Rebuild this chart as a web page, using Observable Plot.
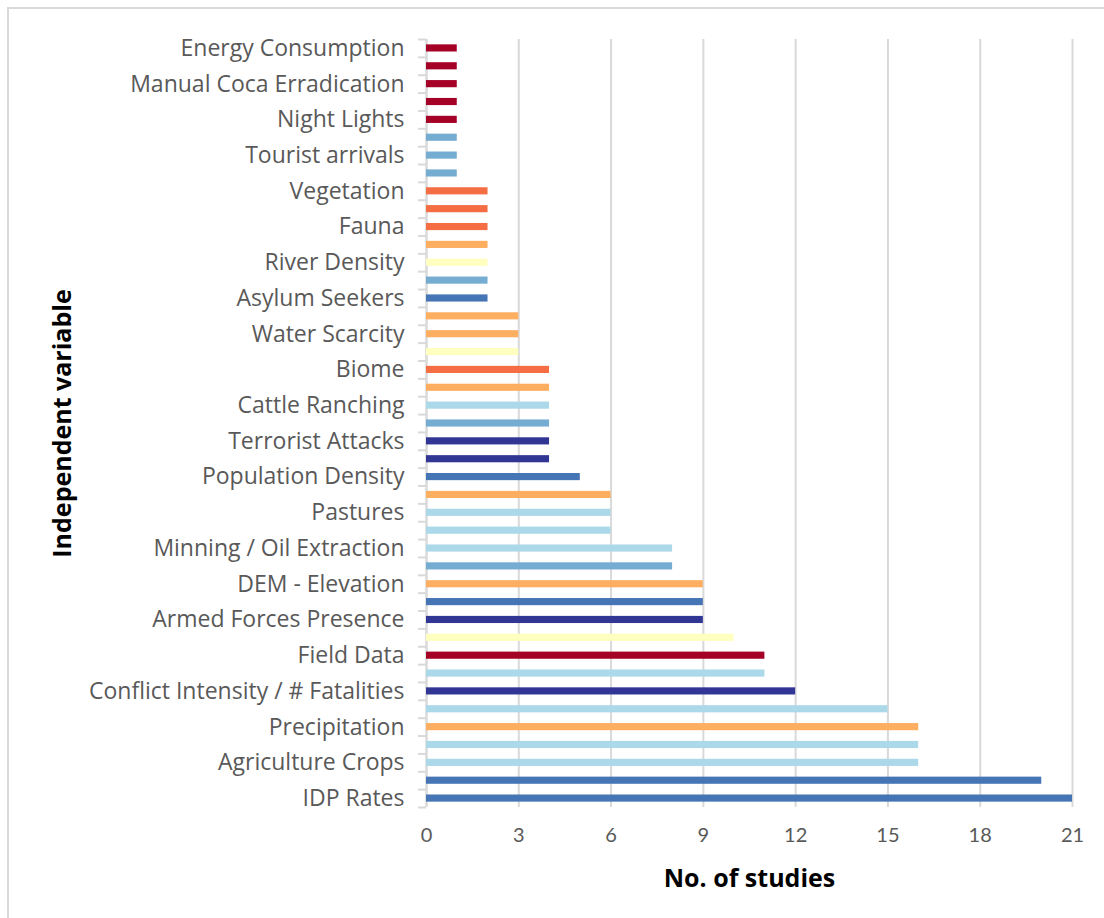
<!DOCTYPE html>
<html>
<head>
<meta charset="utf-8">
<script src="https://cdn.jsdelivr.net/npm/d3@7"></script>
<script src="https://cdn.jsdelivr.net/npm/@observablehq/plot@0.6"></script>
<style>
  html, body { margin: 0; padding: 0; background: #fff; }
  #wrap { position: relative; width: 1104px; height: 918px; overflow: hidden; }
  #frame { position: absolute; left: 7px; top: 7px; width: 1200px; height: 1000px;
           border-top: 2px solid #d9d9d9; border-left: 2px solid #d9d9d9; pointer-events: none; }
  #chart { position: absolute; left: 0; top: 0; }
</style>
</head>
<body>
<div id="wrap"><div id="frame"></div><div id="chart"></div></div>
<script>
// Category labels (top to bottom); every other category is unlabeled in the original
const labels = [
  "Energy Consumption", "", "Manual Coca Erradication", "", "Night Lights", "",
  "Tourist arrivals", "", "Vegetation", "", "Fauna", "", "River Density", "",
  "Asylum Seekers", "", "Water Scarcity", "", "Biome", "", "Cattle Ranching", "",
  "Terrorist Attacks", "", "Population Density", "", "Pastures", "",
  "Minning / Oil Extraction", "", "DEM - Elevation", "", "Armed Forces Presence", "",
  "Field Data", "", "Conflict Intensity / # Fatalities", "", "Precipitation", "",
  "Agriculture Crops", "", "IDP Rates"
];
// Number of studies
const values = [1,1,1,1,1,1,1,1,2,2,2,2,2,2,2,3,3,3,4,4,4,4,4,4,5,6,6,6,8,8,9,9,9,10,11,11,12,15,16,16,16,20,21];
// Group of each bar (drives colour)
const groups = [
  "A","A","A","A","A","F","F","F","B","B","B","C","D","F","G","C","C","D","B","C",
  "E","F","H","H","G","C","E","E","E","F","C","G","H","D","A","E","H","E","C","E",
  "E","G","G"
];
const groupDomain = ["A","B","C","D","E","F","G","H"];
const groupColors = ["#a50026","#f46d43","#fdae61","#ffffbf","#abd9e9","#74add1","#4575b4","#313695"];
const xTicks = [0,3,6,9,12,15,18,21];

const data = values.map((v, i) => ({i, value: v, group: groups[i]}));

const W = 1104, H = 918, mt = 39, mb = 111, ml = 426, mr = 32;
const step = (H - mt - mb) / labels.length;
const font = "'Open Sans', Lato, sans-serif";

const chart = Plot.plot({
  width: W, height: H,
  marginTop: mt, marginBottom: mb, marginLeft: ml, marginRight: mr,
  style: {background: "transparent", fontFamily: font, color: "#595959"},
  x: {domain: [0, 21], ticks: xTicks},
  y: {domain: d3.range(labels.length), paddingInner: 0.6, paddingOuter: 0.3},
  color: {domain: groupDomain, range: groupColors},
  marks: [
    Plot.gridX(xTicks, {stroke: "#d9d9d9", strokeOpacity: 1, strokeWidth: 2}),
    Plot.ruleX([0], {stroke: "#d9d9d9", strokeWidth: 2}),
    Plot.barX(data, {x: "value", y: "i", fill: "group"}),
    Plot.axisX(xTicks, {tickSize: 0, tickPadding: 20, fontSize: 20, fontFamily: "Lato, sans-serif", fill: "#595959", label: null}),
    Plot.axisY({tickSize: 0, tickPadding: 22, fontSize: 23, fill: "#595959",
                tickFormat: i => labels[i], label: null}),
    Plot.axisY({tickSize: 8, text: null, stroke: "#d9d9d9", strokeWidth: 2, dy: -step / 2, label: null}),
    Plot.axisY([labels.length - 1], {tickSize: 8, text: null, stroke: "#d9d9d9", strokeWidth: 2, dy: step / 2, label: null}),
    Plot.text(["No. of studies"], {frameAnchor: "bottom", dy: 79, fontSize: 25, fontWeight: "bold", fill: "#000"}),
    Plot.text(["Independent variable"], {frameAnchor: "left", textAnchor: "middle", dx: -364, rotate: -90, fontSize: 25, fontWeight: "bold", fill: "#000"})
  ]
});
document.getElementById("chart").appendChild(chart);
</script>
</body>
</html>
